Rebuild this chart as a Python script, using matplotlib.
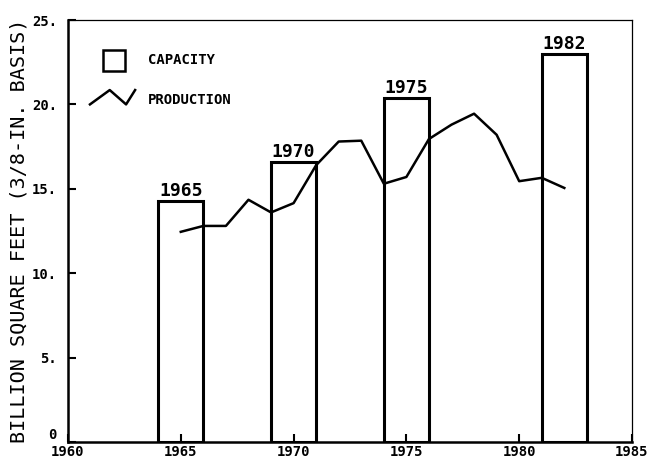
import matplotlib.pyplot as plt
from matplotlib.lines import Line2D
from matplotlib.patches import Rectangle

# capacity bars (year, billion sq ft)
cap_years = [1965, 1970, 1975, 1982]
cap_values = [14.3, 16.6, 20.4, 23.0]

# production line
prod_years = [1965, 1966, 1967, 1968, 1969, 1970, 1971, 1972, 1973,
              1974, 1975, 1976, 1977, 1978, 1979, 1980, 1981, 1982]
prod_values = [12.45, 12.8, 12.8, 14.35, 13.6, 14.15, 16.4, 17.8, 17.85,
               15.3, 15.7, 17.95, 18.8, 19.45, 18.2, 15.45, 15.65, 15.05]

x_ticks = [1960, 1965, 1970, 1975, 1980, 1985]
y_ticks = [0, 5, 10, 15, 20, 25]
y_labels = ['0', '5.', '10.', '15.', '20.', '25.']

font = 'DejaVu Sans Mono'

fig = plt.figure(figsize=(6.5, 4.63), dpi=100)
ax = fig.add_axes([0.1046, 0.0454, 0.8677, 0.9114])

ax.bar(cap_years, cap_values, width=2.0, fill=False, edgecolor='black', linewidth=2.2, zorder=2)
for yr, v in zip(cap_years, cap_values):
    ax.text(yr, v + 0.05, str(yr), ha='center', va='bottom', fontsize=13,
            fontweight='bold', family=font)

ax.plot(prod_years, prod_values, color='black', linewidth=1.8, zorder=3)

ax.set_xlim(1960, 1985)
ax.set_ylim(0, 25)
ax.set_xticks(x_ticks)
ax.set_xticklabels([str(t) for t in x_ticks], family=font, fontsize=10, fontweight='bold')
ax.set_yticks(y_ticks)
ax.set_yticklabels(y_labels, family=font, fontsize=10, fontweight='bold')
ax.get_yticklabels()[0].set_verticalalignment('bottom')
ax.tick_params(axis='both', direction='in', length=6, width=1.5)
ax.tick_params(axis='x', pad=2)
ax.tick_params(axis='y', pad=8)

for side in ['left', 'bottom']:
    ax.spines[side].set_linewidth(1.8)
for side in ['top', 'right']:
    ax.spines[side].set_linewidth(0.9)

ax.set_ylabel('BILLION SQUARE FEET (3/8-IN. BASIS)', family=font, fontsize=14.5,
              labelpad=2)

# legend drawn by hand in axes coordinates
ax.add_patch(Rectangle((0.062, 0.88), 0.039, 0.049, transform=ax.transAxes,
                       fill=False, edgecolor='black', linewidth=1.8))
ax.text(0.142, 0.906, 'CAPACITY', transform=ax.transAxes, va='center',
        fontsize=10, fontweight='bold', family=font)
ax.add_line(Line2D([0.039, 0.074, 0.103, 0.119], [0.80, 0.834, 0.80, 0.834],
                   transform=ax.transAxes, color='black', linewidth=1.8))
ax.text(0.142, 0.81, 'PRODUCTION', transform=ax.transAxes, va='center',
        fontsize=10, fontweight='bold', family=font)

fig.savefig('out.png', dpi=100)
